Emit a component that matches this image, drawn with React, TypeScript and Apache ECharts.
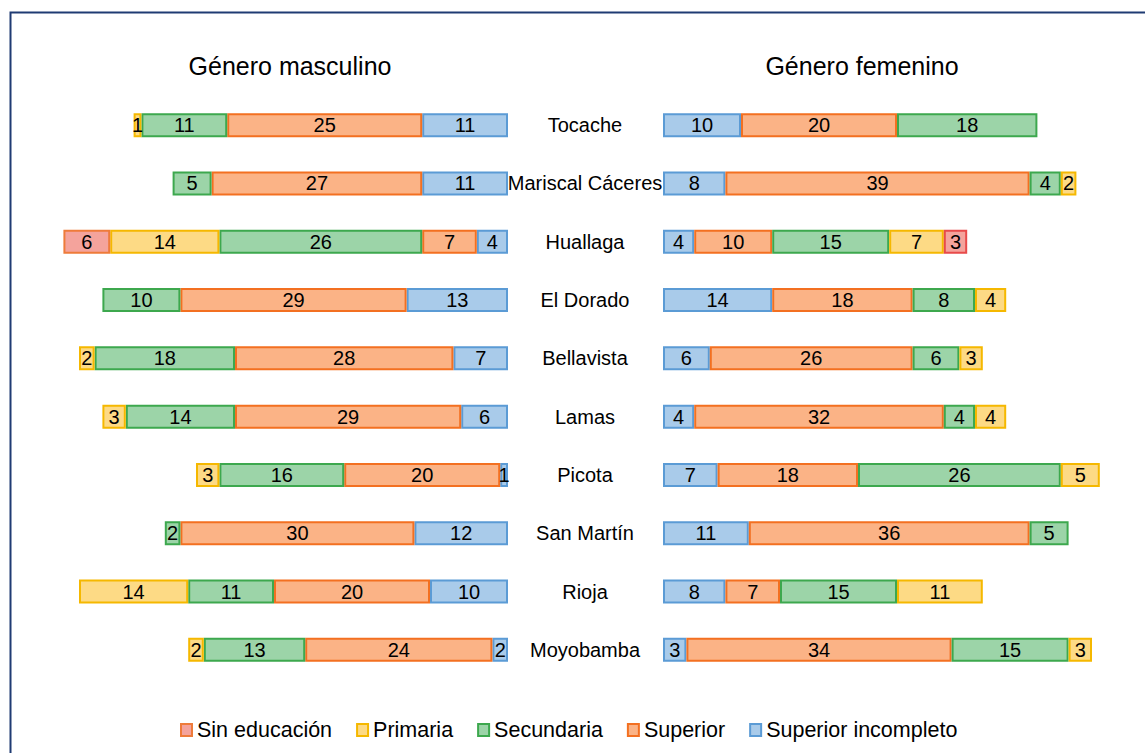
import React, { useEffect, useRef } from "react";
import * as echarts from "echarts";

const categories = ["Tocache", "Mariscal Cáceres", "Huallaga", "El Dorado", "Bellavista", "Lamas", "Picota", "San Martín", "Rioja", "Moyobamba"];
const seriesNames = ["Sin educación", "Primaria", "Secundaria", "Superior", "Superior incompleto"];

// Género masculino
const maleSinEducacion = [0, 0, 6, 0, 0, 0, 0, 0, 0, 0];
const malePrimaria = [1, 0, 14, 0, 2, 3, 3, 0, 14, 2];
const maleSecundaria = [11, 5, 26, 10, 18, 14, 16, 2, 11, 13];
const maleSuperior = [25, 27, 7, 29, 28, 29, 20, 30, 20, 24];
const maleSuperiorIncompleto = [11, 11, 4, 13, 7, 6, 1, 12, 10, 2];

// Género femenino
const femaleSinEducacion = [0, 0, 3, 0, 0, 0, 0, 0, 0, 0];
const femalePrimaria = [0, 2, 7, 4, 3, 4, 5, 0, 11, 3];
const femaleSecundaria = [18, 4, 15, 8, 6, 4, 26, 5, 15, 15];
const femaleSuperior = [20, 39, 10, 18, 26, 32, 18, 36, 7, 34];
const femaleSuperiorIncompleto = [10, 8, 4, 14, 6, 4, 7, 11, 8, 3];

const FONT = "'Liberation Sans', Arial, sans-serif";

const styles: Record<string, { fill: string; border: string; borderF?: string }> = {
  "Sin educación": { fill: "#F4A39C", border: "#EE7B3A", borderF: "#E84A4A" },
  Primaria: { fill: "#FDDA85", border: "#F5B800" },
  Secundaria: { fill: "#9CD4A8", border: "#3DA84E" },
  Superior: { fill: "#FBB386", border: "#F37021" },
  "Superior incompleto": { fill: "#A9CBEA", border: "#5B9BD5" },
};

export default function App() {
  const ref = useRef<HTMLDivElement>(null);
  useEffect(() => {
    document.body.style.margin = "0";
    if (!ref.current) return;
    const chart = echarts.init(ref.current, undefined, { renderer: "svg" });

    const male: Record<string, number[]> = {
      "Sin educación": maleSinEducacion,
      Primaria: malePrimaria,
      Secundaria: maleSecundaria,
      Superior: maleSuperior,
      "Superior incompleto": maleSuperiorIncompleto,
    };
    const female: Record<string, number[]> = {
      "Sin educación": femaleSinEducacion,
      Primaria: femalePrimaria,
      Secundaria: femaleSecundaria,
      Superior: femaleSuperior,
      "Superior incompleto": femaleSuperiorIncompleto,
    };
    const stackOrder = ["Superior incompleto", "Superior", "Secundaria", "Primaria", "Sin educación"];

    const mk = (name: string, values: number[], idx: number, stack: string, isFemale: boolean) => ({
      name,
      type: "bar",
      stack,
      xAxisIndex: idx,
      yAxisIndex: idx,
      barWidth: 24,
      data: values.map((v) => (v === 0 ? "-" : v)),
      itemStyle: {
        color: styles[name].fill,
        borderColor: isFemale && styles[name].borderF ? styles[name].borderF : styles[name].border,
        borderWidth: 2,
      },
      label: {
        show: true,
        position: "inside",
        color: "#000",
        fontSize: 20,
        fontFamily: FONT,
        formatter: (p: any) => (p.value > 0 ? String(p.value) : ""),
      },
      emphasis: { disabled: true },
    });

    const series: any[] = [];
    stackOrder.forEach((n) => series.push(mk(n, male[n], 0, "m", false)));
    stackOrder.forEach((n) => series.push(mk(n, female[n], 1, "f", true)));

    chart.setOption({
      animation: false,
      backgroundColor: "#fff",
      textStyle: { fontFamily: FONT },
      graphic: [
        {
          type: "rect",
          shape: { x: 10.5, y: 12.5, width: 1300, height: 900 },
          style: { fill: "none", stroke: "#1F3B73", lineWidth: 2 },
          silent: true,
        },
        {
          type: "text",
          x: 290,
          y: 66,
          style: { text: "Género masculino", fontSize: 25, fontFamily: FONT, fill: "#000", textAlign: "center", textVerticalAlign: "middle" },
        },
        {
          type: "text",
          x: 862,
          y: 66,
          style: { text: "Género femenino", fontSize: 25, fontFamily: FONT, fill: "#000", textAlign: "center", textVerticalAlign: "middle" },
        },
      ],
      legend: {
        data: seriesNames,
        left: 175,
        top: 714,
        itemWidth: 11,
        itemHeight: 12,
        itemGap: 24,
        icon: "rect",
        textStyle: { fontSize: 21.5, fontFamily: FONT, color: "#000" },
        selectedMode: false,
      },
      grid: [
        { left: 40, width: 468, top: 96, height: 583 },
        { left: 663, width: 468, top: 96, height: 583 },
      ],
      xAxis: [
        { type: "value", gridIndex: 0, min: 0, max: 60, inverse: true, show: false },
        { type: "value", gridIndex: 1, min: 0, max: 60, show: false },
      ],
      yAxis: [
        {
          type: "category",
          gridIndex: 0,
          data: categories,
          inverse: true,
          position: "right",
          axisLine: { show: false },
          axisTick: { show: false },
          axisLabel: { show: true, margin: 77, align: "center", fontSize: 20, color: "#000", fontFamily: FONT },
        },
        {
          type: "category",
          gridIndex: 1,
          data: categories,
          inverse: true,
          axisLine: { show: false },
          axisTick: { show: false },
          axisLabel: { show: false },
        },
      ],
      series,
    });
    return () => chart.dispose();
  }, []);
  return <div ref={ref} style={{ width: 1145, height: 753 }} />;
}
